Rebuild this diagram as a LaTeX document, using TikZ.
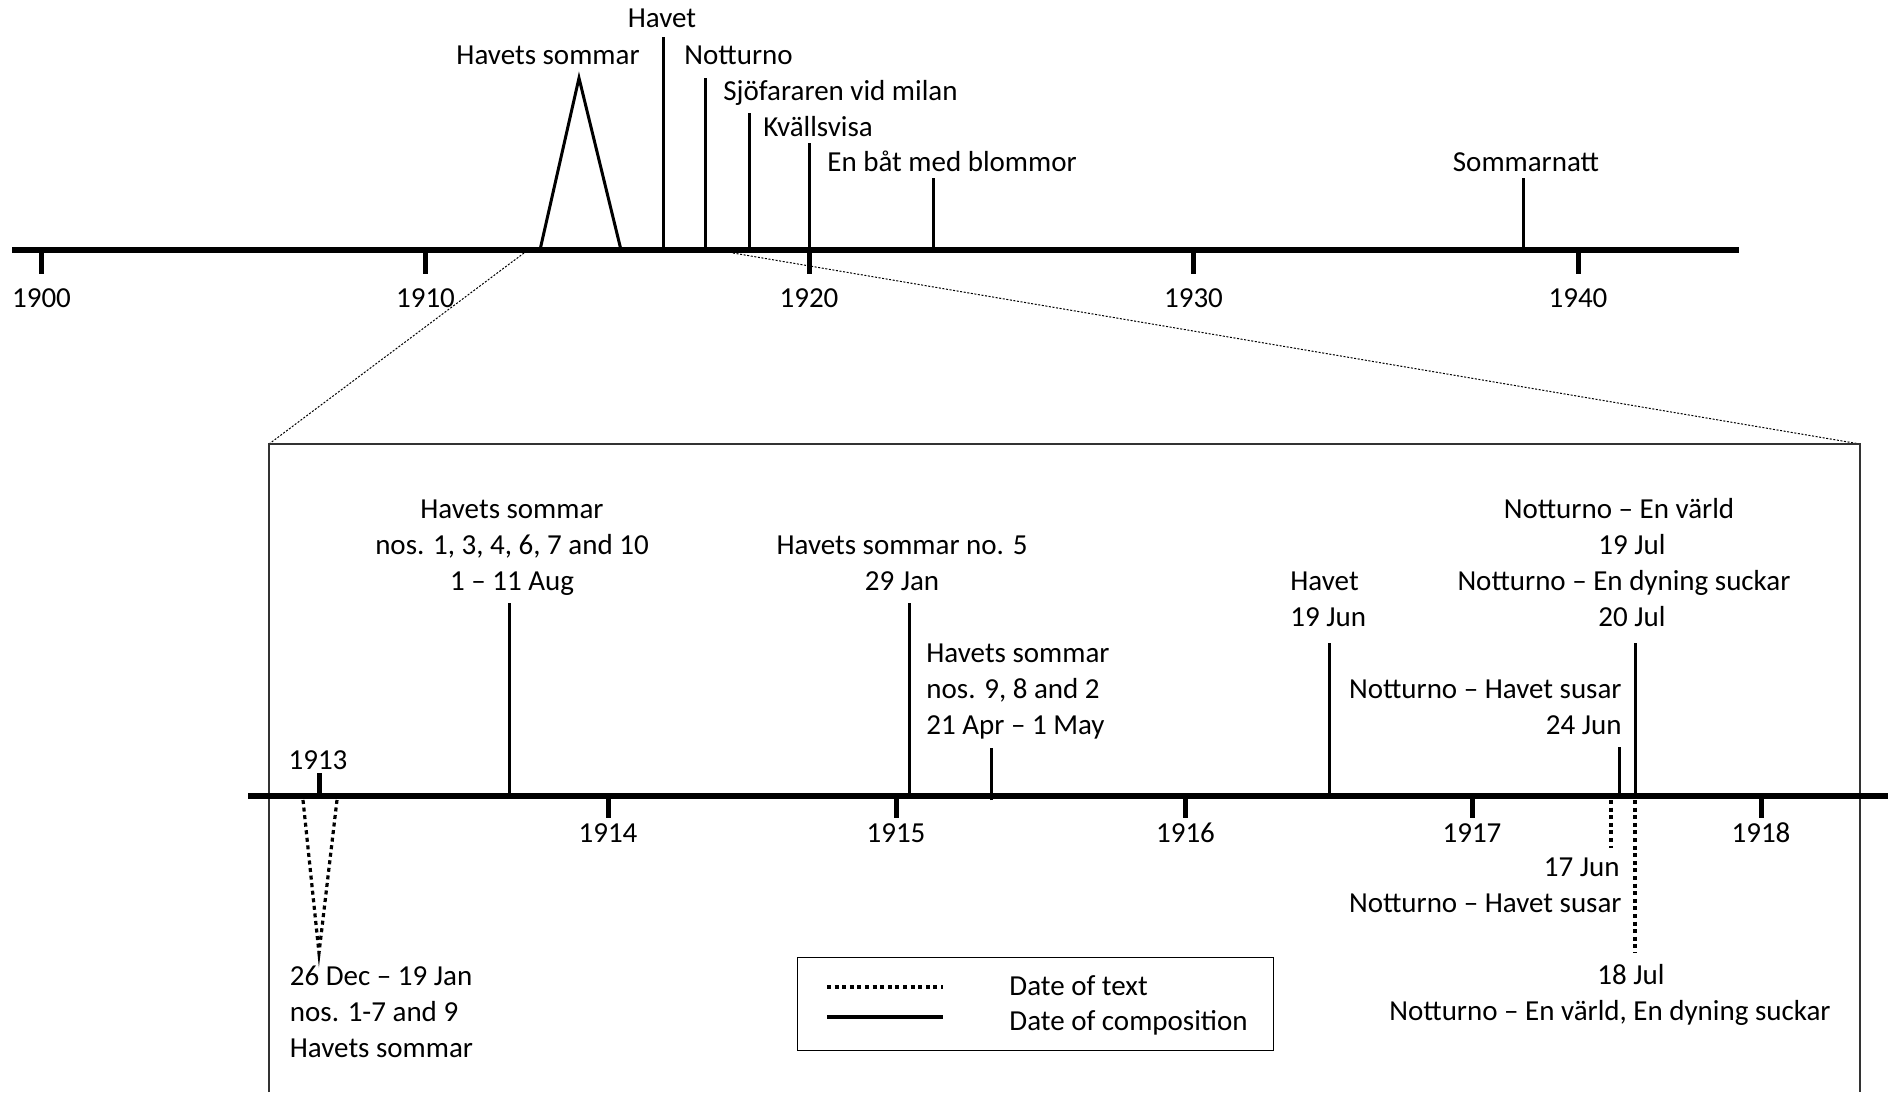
\documentclass[tikz,border=0pt]{standalone}
\usepackage{fontspec}
\setmainfont{Carlito}
\begin{document}
\begin{tikzpicture}[x=0.5pt,y=-0.5pt,
  lbl/.style={inner sep=0pt, font=\fontsize{14.5pt}{18pt}\selectfont},
  axisline/.style={line width=2.75pt},
  tickmark/.style={line width=2.5pt},
  event/.style={line width=1.5pt},
  textdate/.style={line width=1.6pt, dash pattern=on 2pt off 1.8pt},
  zoomline/.style={line width=0.5pt, dash pattern=on 1pt off 0.8pt},
  panel/.style={line width=0.8pt, draw=black!80}]
\useasboundingbox (0,0) rectangle (1894,1092);

% ---------- overview timeline 1900-1945 ----------
\coordinate (tL) at (12,250);
\coordinate (tR) at (1739,250);
\draw[axisline] (tL) -- (tR);
\foreach \yr/\x in {1900/41.5,1910/425.5,1920/809,1930/1193.5,1940/1578}{
  \coordinate (t\yr) at (\x,250);
  \coordinate (tb\yr) at (\x,274);
  \draw[tickmark] (t\yr) -- (tb\yr);
  \node[lbl, anchor=base] (ty\yr) at (\x,307) {\yr};
}
% works
\foreach \nm/\x/\top in {havet/663/37, nott/705/78, sjo/749/113, kval/809/143, bat/933/178, somn/1523/178}{
  \coordinate (\nm-bot) at (\x,250);
  \coordinate (\nm-top) at (\x,\top);
  \draw[event] (\nm-bot) -- (\nm-top);
}
% Havets sommar spread over 1913-1915
\coordinate (hsA) at (540,250);
\coordinate (hsP) at (579,78);
\coordinate (hsB) at (621,250);
\draw[event, line join=miter] (hsA) -- (hsP) -- (hsB);

\node[lbl, anchor=base] (l-havet) at (662,27) {Havet};
\node[lbl, anchor=base east] (l-hs) at (640,64) {Havets sommar};
\node[lbl, anchor=base west] (l-nott) at (684,64) {Notturno};
\node[lbl, anchor=base west] (l-sjo) at (723,100) {Sjöfararen vid milan};
\node[lbl, anchor=base west] (l-kval) at (763,136) {Kvällsvisa};
\node[lbl, anchor=base west] (l-bat) at (827,171) {En båt med blommor};
\node[lbl, anchor=base] (l-somn) at (1526,171) {Sommarnatt};

% ---------- enlargement 1913-1918 ----------
\coordinate (zA) at (524,253);
\coordinate (zB) at (733,253);
\coordinate (pTL) at (269,444);
\coordinate (pTR) at (1860,444);
\coordinate (pBL) at (269,1092);
\coordinate (pBR) at (1860,1092);
\draw[zoomline] (zA) -- (pTL);
\draw[zoomline] (zB) -- (pTR);
\draw[panel] (pBL) -- (pTL) -- (pTR) -- (pBR);

\coordinate (bL) at (248,796);
\coordinate (bR) at (1888,796);
\draw[axisline] (bL) -- (bR);

\coordinate (b1913) at (319,796);
\coordinate (bt1913) at (319,773);
\draw[tickmark] (b1913) -- (bt1913);
\node[lbl, anchor=base] (by1913) at (318,769) {1913};
\foreach \yr/\x in {1914/608,1915/896,1916/1185.5,1917/1472,1918/1761}{
  \coordinate (b\yr) at (\x,796);
  \coordinate (bt\yr) at (\x,818);
  \draw[tickmark] (b\yr) -- (bt\yr);
  \node[lbl, anchor=base] (by\yr) at (\x,842) {\yr};
}

% dates of composition
\foreach \nm/\x/\top/\bot in {hsA/509.5/603/796, hsB/909.5/603/796, hsC/991/748/800,
                              hav/1329.5/643/796, susar/1619.5/747/796, dyn/1635/643/796}{
  \coordinate (\nm-bot) at (\x,\bot);
  \coordinate (\nm-top) at (\x,\top);
  \draw[event] (\nm-bot) -- (\nm-top);
}

\node[lbl, anchor=base] (hsA1) at (512,518) {Havets sommar};
\node[lbl, anchor=base] (hsA2) at (512,554) {nos. 1, 3, 4, 6, 7 and 10};
\node[lbl, anchor=base] (hsA3) at (512,590) {1 – 11 Aug};

\node[lbl, anchor=base] (hsB1) at (902,554) {Havets sommar no. 5};
\node[lbl, anchor=base] (hsB2) at (902,590) {29 Jan};

\node[lbl, anchor=base west] (hsC1) at (926,662) {Havets sommar};
\node[lbl, anchor=base west] (hsC2) at (926,698) {nos. 9, 8 and 2};
\node[lbl, anchor=base west] (hsC3) at (926,734) {21 Apr – 1 May};

\node[lbl, anchor=base west] (hav1) at (1290,590) {Havet};
\node[lbl, anchor=base west] (hav2) at (1290,626) {19 Jun};

\node[lbl, anchor=base east] (sus1) at (1622,698) {Notturno – Havet susar};
\node[lbl, anchor=base east] (sus2) at (1622,734) {24 Jun};

\node[lbl, anchor=base] (dyn1) at (1619,518) {Notturno – En värld};
\node[lbl, anchor=base] (dyn2) at (1632,554) {19 Jul};
\node[lbl, anchor=base] (dyn3) at (1624,590) {Notturno – En dyning suckar};
\node[lbl, anchor=base] (dyn4) at (1632,626) {20 Jul};

% dates of text
\coordinate (vL) at (303,800);
\coordinate (vR) at (337,800);
\coordinate (vP) at (319,953);
\draw[textdate] (vL) -- (vP) -- (vR);
\coordinate (j17a) at (1611,800);
\coordinate (j17b) at (1611,848);
\draw[textdate] (j17a) -- (j17b);
\coordinate (j18a) at (1635,800);
\coordinate (j18b) at (1635,953);
\draw[textdate] (j18a) -- (j18b);

\node[lbl, anchor=base west] (tx1) at (289.5,985) {26 Dec – 19 Jan};
\node[lbl, anchor=base west] (tx2) at (289.5,1021) {nos. 1-7 and 9};
\node[lbl, anchor=base west] (tx3) at (289.5,1057) {Havets sommar};

\node[lbl, anchor=base east] (tj1) at (1620,876) {17 Jun};
\node[lbl, anchor=base east] (tj2) at (1622,912) {Notturno – Havet susar};

\node[lbl, anchor=base] (tk1) at (1631,984) {18 Jul};
\node[lbl, anchor=base] (tk2) at (1610,1020) {Notturno – En värld, En dyning suckar};

% legend
\node[draw, line width=0.6pt, minimum width=238pt, minimum height=46.5pt, inner sep=0pt,
      anchor=north west] (legend) at (796.5,957) {};
\coordinate (lgA) at (827,987);
\coordinate (lgB) at (943,987);
\coordinate (lgC) at (827,1017);
\coordinate (lgD) at (943,1017);
\draw[textdate] (lgA) -- (lgB);
\draw[event, line width=1.7pt] (lgC) -- (lgD);
\node[lbl, anchor=base west] (lg1) at (1009,995) {Date of text};
\node[lbl, anchor=base west] (lg2) at (1009,1030) {Date of composition};
\end{tikzpicture}
\end{document}
